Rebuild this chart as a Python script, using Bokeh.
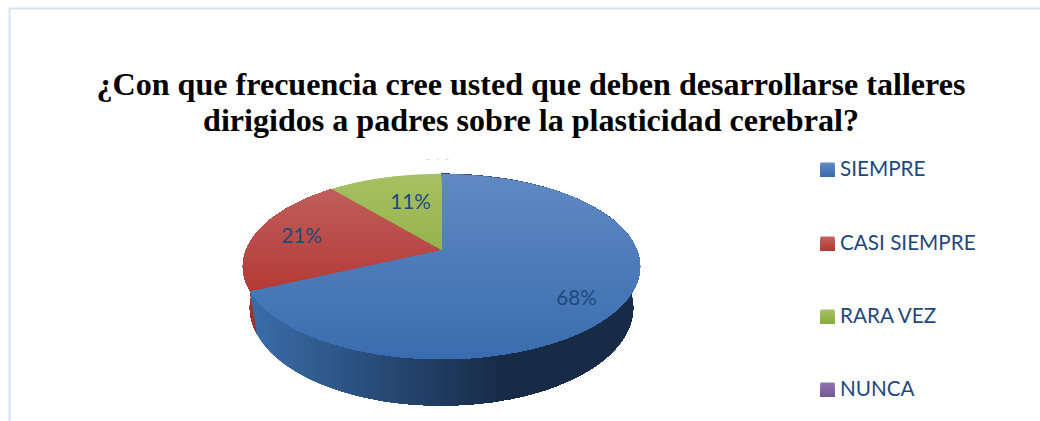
from bokeh.core.properties import value
from bokeh.embed import file_html
from bokeh.models import Range1d
from bokeh.plotting import figure
from bokeh.resources import INLINE
import numpy as np

W, H = 1040, 421

# Survey results
categories = ["SIEMPRE", "CASI SIEMPRE", "RARA VEZ", "NUNCA"]
percentages = [68, 21, 11, 0]
title_lines = [
    "¿Con que frecuencia cree usted que deben desarrollarse talleres",
    "dirigidos a padres sobre la plasticidad cerebral?",
]

# Gradient end colours per slice: top-face light, top-face dark
face_light = ["#6089c2", "#c2625f", "#a6c063", "#8f73ab"]
face_dark = ["#3a6db0", "#b33a36", "#8bad3c", "#775a98"]
side_left = ["#3a6ca8", "#a8342f", "#7f9c36", "#5f4780"]
side_dark = ["#172b47", "#9c2e2a", "#5f7529", "#46345f"]
TEXT_BLUE = "#1f497d"
FONT_PX = "20.7px"
TEXT_NUDGE = 2  # the sans text sits slightly low when middle-aligned

# Perspective pie set-up, in pixel-based plot units (y measured downward from the top)
CX, APEX_Y = 441.0, 249.0
RX, RY, K = 195.2, 89.5, 0.1828
BOTTOM_Y, BOTTOM_XS, BOTTOM_YS = 289.5, 0.965, 1.055


def rim(angle_deg, lower=False):
    """Project a rim point of the pie; angles run clockwise from twelve o'clock."""
    a = np.radians(angle_deg)
    u, v = np.sin(a), np.cos(a)
    s = 1.0 / (1.0 + K * v)
    if lower:
        return CX + BOTTOM_XS * RX * u * s, BOTTOM_Y - BOTTOM_YS * RY * v * s
    return CX + RX * u * s, APEX_Y - RY * v * s


def clip_halfplane(xs, ys, axis, limit):
    """Keep the part of a polygon with x (axis 0) or y (axis 1) at or beyond limit."""
    pts = list(zip(xs, ys))
    out = []
    for i, cur in enumerate(pts):
        prev = pts[i - 1]
        c_in, p_in = cur[axis] >= limit, prev[axis] >= limit
        if c_in != p_in:
            t = (limit - prev[axis]) / (cur[axis] - prev[axis])
            out.append((prev[0] + t * (cur[0] - prev[0]), prev[1] + t * (cur[1] - prev[1])))
        if c_in:
            out.append(cur)
    return [p[0] for p in out], [p[1] for p in out]


def mix(c1, c2, t):
    a = [int(c1[i:i + 2], 16) for i in (1, 3, 5)]
    b = [int(c2[i:i + 2], 16) for i in (1, 3, 5)]
    return "#%02x%02x%02x" % tuple(round(p + (q - p) * t) for p, q in zip(a, b))


def gradient_patch(fig, xs, ys, axis, lo, hi, c1, c2, steps=36):
    """Fill a polygon with a linear gradient by painting ever smaller clipped copies."""
    for i in range(steps):
        lim = lo + (hi - lo) * i / steps
        cx, cy = clip_halfplane(xs, ys, axis, lim)
        if len(cx) >= 3:
            fig.patch(cx, [H - y for y in cy], fill_color=mix(c1, c2, i / (steps - 1)),
                      line_color=None)


p = figure(width=W, height=H, output_backend="svg", toolbar_location=None,
           x_range=Range1d(0, W), y_range=Range1d(0, H), min_border=0)
p.axis.visible = False
p.grid.visible = False
p.outline_line_color = None
p.background_fill_color = "#ffffff"
p.border_fill_color = "#ffffff"

# Chart frame, running off the page on the right and at the bottom
p.line([9, 9, W], [0, H - 8, H - 8], line_color="#d5e3f6", line_width=2)

# Slice boundaries from the percentages
edges = np.concatenate([[0], np.cumsum(percentages)]) * 3.6

# Rim of the pie, back to front: red sliver first, the blue wall over it
for idx in (1, 0):
    a0, a1 = edges[idx], edges[idx + 1]
    th = np.linspace(a0, a1, 160)
    tx, ty = rim(th)
    bx, by = rim(th, lower=True)
    wall_x = list(tx) + list(bx[::-1])
    wall_y = list(ty) + list(by[::-1])
    lo = 250 if idx == 0 else 240
    hi = 505 if idx == 0 else 262
    gradient_patch(p, wall_x, wall_y, 0, lo, hi, side_left[idx], side_dark[idx], steps=48)

# Top faces with a vertical gradient
TOP, BOTTOM = 173, 359
for idx in range(3):
    th = np.linspace(edges[idx], edges[idx + 1], 200)
    ex, ey = rim(th)
    xs = [CX] + list(ex)
    ys = [APEX_Y] + list(ey)
    gradient_patch(p, xs, ys, 1, TOP, BOTTOM if idx == 0 else 295,
                   face_light[idx], face_dark[idx], steps=40)

# Data labels, centred on each slice
label_x = [576, 301, 410]
label_y = [298, 236, 202]
for pct, lx, ly in zip(percentages[:3], label_x, label_y):
    p.text([lx], [H - ly + TEXT_NUDGE], text=[f"{pct}%"], text_font=value("Lato"),
           text_font_size=FONT_PX, text_color=TEXT_BLUE, text_align="center",
           text_baseline="middle")

# The empty slice's label sits behind the heading's white band, only its foot shows
p.text([436], [H - 151], text=[f"{percentages[3]}%"], text_font=value("Lato"),
       text_font_size=FONT_PX, text_color=TEXT_BLUE, text_alpha=0.4, text_align="center",
       text_baseline="middle")
p.quad(left=[415], right=[455], bottom=[H - 159], top=[H - 130], fill_color="#ffffff",
       line_color=None)

# Heading
for line, base in zip(title_lines, (83, 119)):
    p.text([530.5], [H - base], text=[line], text_font=value("Liberation Serif"),
           text_font_style="bold", text_font_size="32.1px", text_color="#000000",
           text_align="center", text_baseline="alphabetic")

# Legend
legend_y = [169, 243, 316, 389]
for i, (name, ly) in enumerate(zip(categories, legend_y)):
    sx = [820, 834, 834, 820]
    sy = [ly - 7, ly - 7, ly + 7, ly + 7]
    gradient_patch(p, sx, sy, 1, ly - 7, ly + 7, face_light[i], face_dark[i], steps=14)
    p.text([839.5], [H - ly + TEXT_NUDGE], text=[name], text_font=value("Lato"),
           text_font_size=FONT_PX, text_color=TEXT_BLUE, text_align="left",
           text_baseline="middle")

open("out.html", "w").write(file_html(p, INLINE))
